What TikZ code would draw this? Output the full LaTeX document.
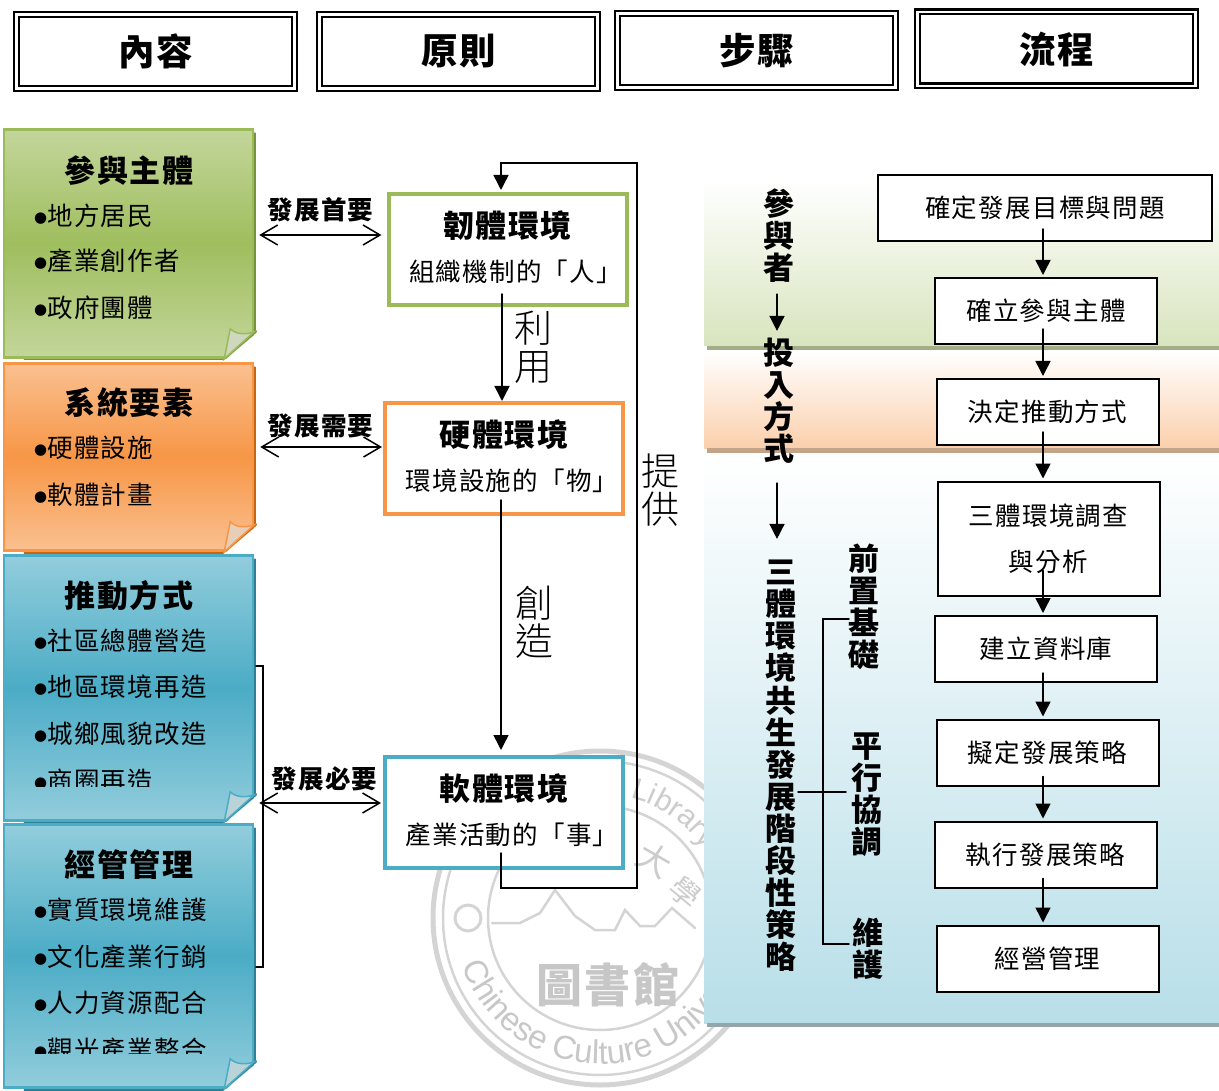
\documentclass[tikz,border=0pt]{standalone}
\usepackage{fontspec}
\setmainfont[LetterSpace=5]{Noto Sans CJK TC}
\newfontfamily\thinfont{Noto Sans CJK TC Light}
\newfontfamily\bulletfont{DejaVu Sans}
\newfontfamily\sealfont{Liberation Sans}
\usetikzlibrary{arrows.meta,decorations.text}

\definecolor{grnlight}{HTML}{C3D69B}
\definecolor{grnmid}{HTML}{9FBE5E}
\definecolor{grnline}{HTML}{9BBB59}
\definecolor{grndark}{HTML}{76923C}
\definecolor{orglight}{HTML}{FAC090}
\definecolor{orgmid}{HTML}{F79646}
\definecolor{orgdark}{HTML}{C8660F}
\definecolor{blulight}{HTML}{92CDDC}
\definecolor{blumid}{HTML}{4BACC6}
\definecolor{bludark}{HTML}{2F7F95}

\tikzset{
  headbox/.style={draw, line width=2.2pt, double, double distance=2.6pt, minimum width=278pt, minimum height=74pt, inner sep=0pt, font=\fontsize{36.5}{36.5}\selectfont\bfseries},
  sticky/.style n args={3}{draw=#3, line width=2.5pt, top color=#1, bottom color=#1, middle color=#2, minimum width=249pt, inner sep=0pt},
  stickytitle/.style={inner sep=0pt, font=\fontsize{31}{31}\selectfont\bfseries},
  stickyitem/.style={anchor=west, inner sep=0pt, text height=22pt, text depth=3pt, font=\fontsize{25.5}{25.5}\selectfont},
  envbox/.style={draw=#1, line width=4pt, fill=white, minimum width=238pt, minimum height=111pt, inner sep=0pt, align=center, text depth=7pt},
  flowbox/.style={draw, line width=2pt, fill=white, minimum width=222pt, minimum height=66pt, inner sep=0pt, align=center, font=\fontsize{25.5}{46}\selectfont},
  vertbold/.style={inner sep=0pt, align=center, font=\fontsize{31}{32.1}\selectfont\bfseries},
  vertthin/.style={inner sep=0pt, align=center, font=\fontsize{38}{38}\selectfont\thinfont},
  duallabel/.style={inner sep=0pt, font=\fontsize{25.5}{25.5}\selectfont\bfseries},
  flowarrow/.style={line width=1.5pt, -{Triangle[width=15pt,length=15pt]}},
  dualarrow/.style={line width=1.5pt, {Straight Barb[length=17pt,width=20pt]}-{Straight Barb[length=17pt,width=20pt]}},
  thinline/.style={line width=1.5pt},
  sealline/.style={draw=black!17}
}
\newcommand{\blt}{\raisebox{3pt}{\bulletfont\fontsize{15}{15}\selectfont ●}}
\newcommand{\envtext}[2]{{\fontsize{31}{31}\selectfont\bfseries #1}\\[18pt]\hspace*{16pt}{\fontsize{25.5}{25.5}\selectfont #2}}
% dark edge and curled corner of a sticky note
\newcommand{\foldcorner}[4]{
  \draw[#2, line width=2pt] ([xshift=1pt,yshift=-5pt]#1.north east) -- ([xshift=1pt,yshift=26pt]#1.south east);
  \begin{scope}[shift={(#1.south east)}]
    \fill[white] (-31,3) -- (4,-27) -- (4,3) -- cycle;
    \draw[#2, line width=1.5pt] (-31,1) -- (2,-27);
    \draw[#2, line width=1.5pt] (-31,1) -- (-230,1);
    \filldraw[draw=#4, fill=#3, line width=1.5pt] (-30,0) -- (-24,-30) .. controls (-18,-24) and (-8,-24) .. (0,-27) -- cycle;
  \end{scope}
}

\begin{document}
\begin{tikzpicture}[x=1pt, y=-1pt, line cap=round, line join=miter]
  \useasboundingbox (0,0) rectangle (1219,1091);

  % library seal behind everything
  \begin{scope}[shift={(600,918)}, y=1pt]
    \draw[sealline, line width=5pt] (0,0) circle (167pt);
    \draw[sealline, line width=2.5pt] (0,0) circle (157pt);
    \draw[sealline, line width=2.5pt] (0,0) circle (112pt);
    \path[decorate, decoration={text along path, text color=black!22, text={|\sealfont\fontsize{33}{33}\selectfont|Chinese Culture University}}]
      (199:146pt) arc[start angle=199, end angle=390, radius=146pt];
    \path[decorate, decoration={text along path, text color=black!20, text={|\sealfont\fontsize{30}{30}\selectfont|Library}}]
      (76:124pt) arc[start angle=76, end angle=0, radius=124pt];
    \draw[sealline, line width=2.5pt] (-108,-5) -- (-80,-5) -- (-60,5) -- (-45,28) -- (-25,2) -- (-5,-12) -- (15,-12) -- (25,8) -- (40,-8) -- (55,-8) -- (72,10) -- (95,-10);
    \draw[sealline, line width=3pt] (-132,0) circle (13pt);
  \end{scope}
  \node[inner sep=0pt, text=black!22, font=\fontsize{46}{46}\selectfont\bfseries] (sealname) at (608,985) {圖書館};
  \node[inner sep=0pt, text=black!20, rotate=-30, font=\fontsize{34}{34}\selectfont] (sealdai) at (655,860) {大};
  \node[inner sep=0pt, text=black!20, rotate=-40, font=\fontsize{30}{30}\selectfont] (sealxue) at (685,892) {學};

  % background bands
  \shade[top color=white, bottom color=grnlight!65] (704,180) rectangle (1219,346);
  \fill[grndark!65!gray!70] (707,346) rectangle (1219,351);
  \shade[top color=white, bottom color=orglight!75] (704,351) rectangle (1219,448);
  \fill[orgdark!50!gray!65] (707,448) rectangle (1219,453);
  \shade[top color=white, bottom color=blulight!65] (704,453) rectangle (1219,1023);
  \fill[bludark!30!gray!70] (707,1023) rectangle (1219,1027);

  % headers
  \node[headbox] (headA) at (155.5,51.5) {內容};
  \node[headbox] (headB) at (458.5,51.5) {原則};
  \node[headbox] (headC) at (756.5,50.5) {步驟};
  \node[headbox] (headD) at (1056.5,49) {流程};

  % left column
  \node[sticky={grnlight}{grnmid}{grnline}, minimum height=228pt] (paperA) at (128.5,243.5) {};
  \foldcorner{paperA}{grndark}{grnlight!70!gray!60}{grnline}
  \node[sticky={orglight}{orgmid}{orgmid}, minimum height=187pt] (paperB) at (128.5,457) {};
  \foldcorner{paperB}{orgdark}{orglight!70!gray!60}{orgmid}
  \node[sticky={blulight}{blumid}{blumid}, minimum height=265pt] (paperC) at (128.5,688) {};
  \foldcorner{paperC}{bludark}{blulight!70!gray!60}{blumid}
  \node[sticky={blulight}{blumid}{blumid}, minimum height=263pt] (paperD) at (128.5,956) {};
  \foldcorner{paperD}{bludark}{blulight!70!gray!60}{blumid}

  \node[stickytitle] (titleA) at (129,171) {參與主體};
  \node[stickyitem] (itemAa) at (34,216) {\blt 地方居民};
  \node[stickyitem] (itemAb) at (34,261) {\blt 產業創作者};
  \node[stickyitem] (itemAc) at (34,308) {\blt 政府團體};

  \node[stickytitle] (titleB) at (129,403) {系統要素};
  \node[stickyitem] (itemBa) at (34,448) {\blt 硬體設施};
  \node[stickyitem] (itemBb) at (34,495) {\blt 軟體計畫};

  \node[stickytitle] (titleC) at (129,596) {推動方式};
  \node[stickyitem] (itemCa) at (34,641) {\blt 社區總體營造};
  \node[stickyitem] (itemCb) at (34,687) {\blt 地區環境再造};
  \node[stickyitem] (itemCc) at (34,734) {\blt 城鄉風貌改造};
  \begin{scope}
    \clip (0,700) rectangle (254,786);
    \node[stickyitem] (itemCd) at (34,781) {\blt 商圈再造};
  \end{scope}

  \node[stickytitle] (titleD) at (129,865) {經管管理};
  \node[stickyitem] (itemDa) at (34,910) {\blt 實質環境維護};
  \node[stickyitem] (itemDb) at (34,957) {\blt 文化產業行銷};
  \node[stickyitem] (itemDc) at (34,1003) {\blt 人力資源配合};
  \begin{scope}
    \clip (0,1020) rectangle (254,1053);
    \node[stickyitem] (itemDd) at (34,1050) {\blt 觀光產業整合};
  \end{scope}

  % bracket joining the two blue notes
  \coordinate (brktop) at (256,666);
  \coordinate (brkbot) at (256,967);
  \draw[thinline] (brktop) -- ++(7,0) |- (brkbot);

  % middle column
  \node[envbox=grnline] (envA) at (507.5,249.5) {\envtext{韌體環境}{組織機制的「人」}};
  \node[envbox=orgmid] (envB) at (504,458.5) {\envtext{硬體環境}{環境設施的「物」}};
  \node[envbox=blumid] (envC) at (504,812.5) {\envtext{軟體環境}{產業活動的「事」}};

  \node[duallabel] (lblA) at (320.5,210) {發展首要};
  \node[duallabel] (lblB) at (320.5,426) {發展需要};
  \node[duallabel] (lblC) at (324.5,779) {發展必要};
  \draw[dualarrow] ([xshift=5pt,yshift=8.5pt]paperA.east) -- ([xshift=-5pt,yshift=14.5pt]envA.west);
  \draw[dualarrow] ([xshift=6pt,yshift=10pt]paperB.east) -- ([xshift=-1pt,yshift=11.5pt]envB.west);
  \draw[dualarrow] ([xshift=5pt,yshift=-115pt]paperC.east) -- ([xshift=-2pt,yshift=9.5pt]envC.west);

  \draw[flowarrow] ([xshift=-5.5pt,yshift=13pt]envA.south) -- ([xshift=-2pt]envB.north);
  \draw[flowarrow] ([xshift=-3pt,yshift=16pt]envB.south) -- ([xshift=-3pt,yshift=5pt]envC.north);
  \coordinate (loopbot) at (637,888);
  \coordinate (looptop) at (637,163);
  \draw[flowarrow] ([xshift=-3pt,yshift=17pt]envC.south) |- (loopbot) -- (looptop) -| ([xshift=-6.5pt,yshift=2pt]envA.north);

  \node[vertthin] (useA) at (533,347) {利\\用};
  \node[vertthin] (useB) at (534,622) {創\\造};
  \node[vertthin] (useC) at (660,490) {提\\供};

  % right column
  \node[vertbold] (partA) at (779,236) {參\\與\\者};
  \node[vertbold] (partB) at (779,401) {投\\入\\方\\式};
  \node[vertbold] (partC) at (781,766) {三\\體\\環\\境\\共\\生\\發\\展\\階\\段\\性\\策\\略};
  \node[vertbold] (stageA) at (864,607) {前\\置\\基\\礎};
  \node[vertbold] (stageB) at (866.5,795) {平\\行\\協\\調};
  \node[vertbold] (stageC) at (868,949) {維\\護};
  \draw[flowarrow] ([xshift=-2pt,yshift=-11pt]partA.south) -- ([xshift=-2pt,yshift=7pt]partB.north);
  \draw[flowarrow] ([xshift=-2pt,yshift=-19pt]partB.south) -- ([xshift=-4pt,yshift=21pt]partC.north);

  \coordinate (stagex) at (823,792);
  \draw[thinline] (849,619) -- (823,619) -- (823,944) -- (849,944);
  \draw[thinline] (798,792) -- (stagex) -- (846,792);

  \node[flowbox, minimum width=334pt] (stepA) at (1045,208) {確定發展目標與問題};
  \node[flowbox] (stepB) at (1046,311) {確立參與主體};
  \node[flowbox] (stepC) at (1047.5,412) {決定推動方式};
  \node[flowbox, minimum height=114pt] (stepD) at (1048.5,538.5) {三體環境調查\\與分析};
  \node[flowbox] (stepE) at (1046,649) {建立資料庫};
  \node[flowbox] (stepF) at (1047.5,752.5) {擬定發展策略};
  \node[flowbox] (stepG) at (1045.5,854.5) {執行發展策略};
  \node[flowbox] (stepH) at (1047.5,958.5) {經營管理};

  \coordinate (flowx) at (1043,0);
  \foreach \from/\to/\up in {stepA/stepB/13pt, stepB/stepC/16pt, stepC/stepD/14pt, stepD/stepE/26pt, stepE/stepF/10pt, stepF/stepG/10pt, stepG/stepH/10pt}
    \draw[flowarrow] ([yshift=\up]\from.south -| flowx) -- ([yshift=2pt]\to.north -| flowx);
\end{tikzpicture}
\end{document}
